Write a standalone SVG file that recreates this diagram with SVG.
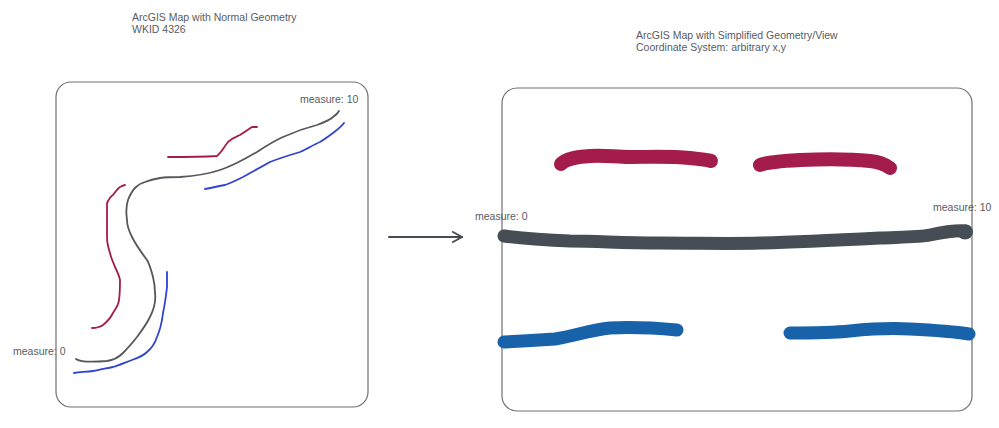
<svg xmlns="http://www.w3.org/2000/svg" width="999" height="428" viewBox="0 0 999 428">
<defs>
<style>
.t{font-family:"Liberation Sans",Arial,sans-serif;font-size:10.5px;fill:#585c62}
.box{fill:#fff;stroke:#707070;stroke-width:1.2}
.thin{fill:none;stroke-width:1.8;stroke-linecap:round;stroke-linejoin:round}
.thick{fill:none;stroke-width:13;stroke-linecap:round;stroke-linejoin:round}
.red{stroke:#a41c4b}
.blue{stroke:#2f44cf}
.gray{stroke:#55585c}
.tred{stroke:#a41c4b;stroke-width:14}
.tblue{stroke:#1862aa}
.tgray{stroke:#474d55}
</style>
<marker id="chev" viewBox="0 0 12 12" refX="11" refY="6" markerWidth="12" markerHeight="12" markerUnits="userSpaceOnUse" orient="auto">
<path d="M2,1 L11,6 L2,11" fill="none" stroke="#474b52" stroke-width="2" stroke-linecap="round" stroke-linejoin="round"/>
</marker>
</defs>
<rect width="999" height="428" fill="#fff"/>

<g id="left-map">
<text class="t" x="132" y="21">ArcGIS Map with Normal Geometry</text>
<text class="t" x="132" y="33">WKID 4326</text>
<rect class="box" x="56" y="82" width="312" height="325" rx="15" ry="15"/>
<text class="t" x="300" y="103">measure: 10</text>
<text class="t" x="13" y="355">measure: 0</text>
<path class="thin gray" d="M76,359 C80,362 95,362 107,361 C115,360 120,356 123,353 C129,347 133,342 137,337 C143,329 147,323 150,317 C154,309 156,300 155,293 C155,286 154,281 153,277 C151,270 150,265 147,260 C141,252 136,245 132,237 C129,231 127,226 127,220 C126,213 126,206 128,200 C130,195 132,191 135,188 C138,185 141,183 145,182 C150,180 154,179 160,178 C167,177 173,177 180,177 C195,176 208,174 220,170 C233,166 245,159 257,152 C266,146 274,141 283,137 C294,132 305,128 317,125 C325,122 330,120 333,117 C336,115 338,113 339,111"/>
<path class="thin red" d="M92,328 C97,328 100,327 103,325 C108,321 111,317 113,313 C117,307 119,303 119,300 C120,293 120,286 120,280 C119,275 117,271 115,267 C113,262 111,258 110,253 C108,247 107,242 107,237 C107,225 107,214 107,203 C109,199 111,196 113,195 C116,191 118,188 120,187 C122,186 124,185 125,185"/>
<path class="thin red" d="M168,157 C185,157 200,157 217,156 C221,153 224,147 228,142 C232,138 236,137 240,135 C245,132 249,129 252,127 C254,127 256,127 257,127"/>
<path class="thin blue" d="M74,373 C80,372 86,372 93,371 C100,370 107,368 113,367 C120,365 126,362 132,360 C138,358 143,356 147,352 C152,348 155,343 157,337 C160,330 162,322 163,313 C165,304 166,296 167,287 C167,282 167,277 167,272"/>
<path class="thin blue" d="M205,189 C212,188 218,186 225,185 C231,183 237,180 243,177 C252,172 261,167 270,162 C280,158 290,155 300,152 C307,149 313,145 320,142 C325,139 329,136 333,133 C337,130 341,127 344,123"/>
</g>

<g id="right-map">
<text class="t" x="636" y="39">ArcGIS Map with Simplified Geometry/View</text>
<text class="t" x="636" y="51">Coordinate System: arbitrary x,y</text>
<rect class="box" x="502" y="88" width="470" height="323" rx="15" ry="15"/>
<text class="t" x="475" y="220">measure: 0</text>
<text class="t" x="933" y="211">measure: 10</text>
<path class="thick tred" d="M561,164 C566,159 575,157 590,156 C605,155 615,157 630,157 C650,157 670,156 690,158 C700,159 708,160 711,161"/>
<path class="thick tred" d="M760,165 C768,162 780,161 800,160 C825,159 850,159 870,161 C880,162 886,165 890,168"/>
<path class="thick tgray" d="M504,236 C520,238 540,240 570,241 C600,241 620,243 660,243 C700,243 730,244 760,243 C800,242 840,240 880,238 C905,237 920,237 930,235 C945,232 955,230 966,231"/>
<ellipse cx="965" cy="232" rx="8" ry="7.5" fill="#474d55"/>
<path class="thick tblue" d="M504,342 C520,341 540,340 555,339 C575,336 590,330 610,328 C630,327 655,328 677,330"/>
<path class="thick tblue" d="M790,333 C810,333 830,333 850,331 C870,329 890,328 910,329 C930,330 950,331 969,334"/>
</g>

<g id="connectors">
<path d="M389,237 L462,237" fill="none" stroke="#474b52" stroke-width="2" stroke-linecap="round" marker-end="url(#chev)"/>
</g>
</svg>
